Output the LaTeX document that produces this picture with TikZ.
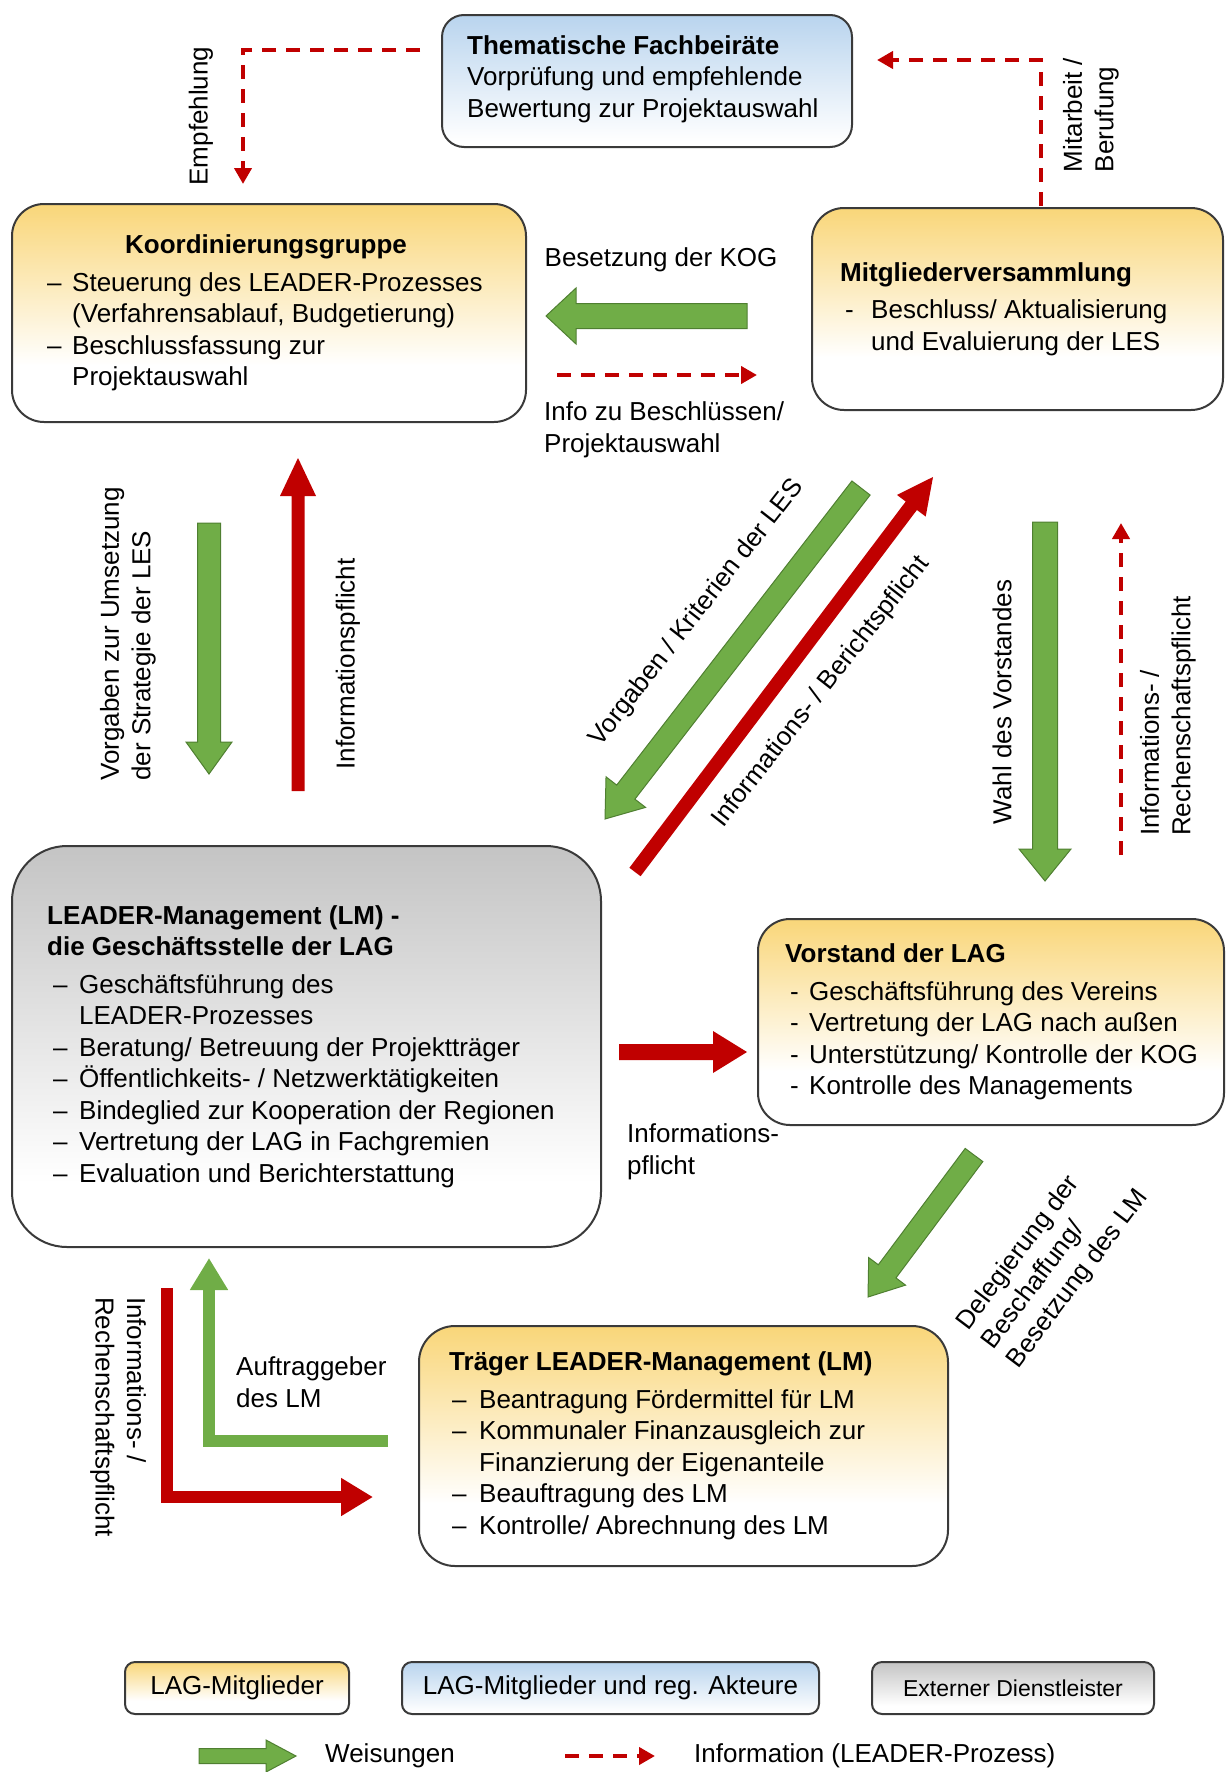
\documentclass[tikz,border=0pt]{standalone}
\usepackage{fontspec}
\setmainfont{Liberation Sans}
\usetikzlibrary{calc,arrows.meta}
\definecolor{myyellow}{HTML}{F9D679}
\definecolor{myblue}{HTML}{B9D4EE}
\definecolor{mygray}{HTML}{C4C4C4}
\definecolor{lgreen}{HTML}{70AD47}
\definecolor{dgreen}{HTML}{4F7F31}
\definecolor{lred}{HTML}{C00000}
\definecolor{bord}{HTML}{3A3A3A}
\pgfdeclareverticalshading{yfade}{100bp}{color(0bp)=(white); color(38bp)=(white); color(75bp)=(myyellow); color(100bp)=(myyellow)}
\pgfdeclareverticalshading{bfade}{100bp}{color(0bp)=(white); color(27bp)=(white); color(75bp)=(myblue); color(100bp)=(myblue)}
\pgfdeclareverticalshading{gfade}{100bp}{color(0bp)=(white); color(33bp)=(white); color(75bp)=(mygray); color(100bp)=(mygray)}
\newcommand{\blockarrow}[6]{%
  \coordinate (ba-n) at ($(#3)!#6!(#2)$);
  \path[#1] ($(#2)!#4!90:(#3)$) -- ($(ba-n)!#4!90:(#3)$) -- ($(ba-n)!#5!90:(#3)$) -- (#3)
    -- ($(ba-n)!#5!-90:(#3)$) -- ($(ba-n)!#4!-90:(#3)$) -- ($(#2)!#4!-90:(#3)$) -- cycle;}
\newcommand{\bitem}[2]{\makebox[#1][l]{–}#2}
\newcommand{\hitem}[2]{\makebox[#1][l]{-}#2}
\tikzset{
  box/.style={draw=bord, line width=2pt, shade, anchor=north west, inner sep=0pt},
  ybox/.style={box, shading=yfade},
  bbox/.style={box, shading=bfade},
  gbox/.style={box, shading=gfade},
  txt/.style={align=left, inner sep=0pt, font=\fontsize{26}{31.5}\selectfont},
  garrow/.style={fill=lgreen, draw=dgreen, line width=1pt, line join=miter},
  rarrow/.style={fill=lred},
  dasharrow/.style={draw=lred, line width=4pt, dash pattern=on 14pt off 10pt, -{Triangle[length=16pt,width=17pt]}},
}
\begin{document}
\begin{tikzpicture}[x=1pt,y=1pt]
\useasboundingbox (0,0) rectangle (1226,-1772);

% ---------- boxes ----------
\node[bbox, rounded corners=22pt, minimum width=410pt, minimum height=132pt] (them) at (441,-14) {};
\node[txt, anchor=west] (themt) at ($(them.west)+(26,2)$) {\textbf{Thematische Fachbeiräte}\\Vorprüfung und empfehlende\\Bewertung zur Projektauswahl};

\node[ybox, rounded corners=32pt, minimum width=514pt, minimum height=218pt] (kog) at (11,-203) {};
\node[txt, anchor=west] (kogt) at ($(kog.west)+(36,0)$) {\hspace*{78pt}\textbf{Koordinierungsgruppe}\\[6pt]
\bitem{25pt}{Steuerung des LEADER-Prozesses}\\
\hspace*{25pt}(Verfahrensablauf, Budgetierung)\\
\bitem{25pt}{Beschlussfassung zur}\\
\hspace*{25pt}Projektauswahl};

\node[ybox, rounded corners=32pt, minimum width=411pt, minimum height=202pt] (mv) at (811,-207) {};
\node[txt, anchor=west] (mvt) at ($(mv.west)+(29,0)$) {\textbf{Mitgliederversammlung}\\[6pt]
\hspace*{5pt}\hitem{26pt}{Beschluss/ Aktualisierung}\\
\hspace*{31pt}und Evaluierung der LES};

\node[gbox, rounded corners=55pt, minimum width=589pt, minimum height=401pt] (lm) at (11,-845) {};
\node[txt, anchor=west] (lmt) at ($(lm.west)+(36,0)$) {\textbf{LEADER-Management (LM) -}\\
\textbf{die Geschäftsstelle der LAG}\\[6pt]
\hspace*{6pt}\bitem{26pt}{Geschäftsführung des}\\
\hspace*{32pt}LEADER-Prozesses\\
\hspace*{6pt}\bitem{26pt}{Beratung/ Betreuung der Projektträger}\\
\hspace*{6pt}\bitem{26pt}{Öffentlichkeits- / Netzwerktätigkeiten}\\
\hspace*{6pt}\bitem{26pt}{Bindeglied zur Kooperation der Regionen}\\
\hspace*{6pt}\bitem{26pt}{Vertretung der LAG in Fachgremien}\\
\hspace*{6pt}\bitem{26pt}{Evaluation und Berichterstattung}};

\node[ybox, rounded corners=32pt, minimum width=466pt, minimum height=206pt] (vor) at (757,-918) {};
\node[txt, anchor=west] (vort) at ($(vor.west)+(28,0)$) {\textbf{Vorstand der LAG}\\[6pt]
\hspace*{5pt}\hitem{19pt}{Geschäftsführung des Vereins}\\
\hspace*{5pt}\hitem{19pt}{Vertretung der LAG nach außen}\\
\hspace*{5pt}\hitem{19pt}{Unterstützung/ Kontrolle der KOG}\\
\hspace*{5pt}\hitem{19pt}{Kontrolle des Managements}};

\node[ybox, rounded corners=36pt, minimum width=529pt, minimum height=240pt] (trag) at (418,-1325) {};
\node[txt, anchor=west] (tragt) at ($(trag.west)+(31,0)$) {\textbf{Träger LEADER-Management (LM)}\\[6pt]
\hspace*{3pt}\bitem{27pt}{Beantragung Fördermittel für LM}\\
\hspace*{3pt}\bitem{27pt}{Kommunaler Finanzausgleich zur}\\
\hspace*{30pt}Finanzierung der Eigenanteile\\
\hspace*{3pt}\bitem{27pt}{Beauftragung des LM}\\
\hspace*{3pt}\bitem{27pt}{Kontrolle/ Abrechnung des LM}};

% ---------- legend ----------
\node[ybox, rounded corners=10pt, minimum width=224pt, minimum height=52pt] (leg1) at (124,-1661) {};
\node[txt] (leg1t) at (leg1.center) {LAG-Mitglieder};
\node[bbox, rounded corners=10pt, minimum width=417pt, minimum height=52pt] (leg2) at (401,-1661) {};
\node[txt] (leg2t) at (leg2.center) {LAG-Mitglieder und reg. Akteure};
\node[gbox, rounded corners=10pt, minimum width=282pt, minimum height=52pt] (leg3) at (871,-1661) {};
\node[txt, font=\fontsize{23}{28}\selectfont] (leg3t) at (leg3.center) {Externer Dienstleister};

% ---------- coordinates for arrows ----------
\coordinate (a1s) at (747,-316);   \coordinate (a1e) at (546,-316);
\coordinate (a2s) at (209,-523);   \coordinate (a2e) at (209,-774);
\coordinate (a3s) at (298,-791);   \coordinate (a3e) at (298,-458);
\coordinate (a4s) at (861,-488);   \coordinate (a4e) at (605,-819);
\coordinate (a5s) at (635,-872);   \coordinate (a5e) at (933,-477);
\coordinate (a6s) at (1045,-522);  \coordinate (a6e) at (1045,-881);
\coordinate (a7s) at (619,-1052);  \coordinate (a7e) at (747,-1052);
\coordinate (a8s) at (974,-1155);  \coordinate (a8e) at (868,-1297);
\coordinate (a9s) at (199,-1756);  \coordinate (a9e) at (296,-1756);

% ---------- block arrows ----------
\blockarrow{garrow}{a1s}{a1e}{12.5pt}{28pt}{30pt}
\blockarrow{garrow}{a2s}{a2e}{11.5pt}{23pt}{32pt}
\blockarrow{rarrow}{a3s}{a3e}{6.5pt}{18pt}{38pt}
\blockarrow{garrow}{a4s}{a4e}{11.5pt}{25pt}{34pt}
\blockarrow{rarrow}{a5s}{a5e}{7pt}{18pt}{36pt}
\blockarrow{garrow}{a6s}{a6e}{12.5pt}{26pt}{32pt}
\blockarrow{rarrow}{a7s}{a7e}{8pt}{21pt}{34pt}
\blockarrow{garrow}{a8s}{a8e}{11pt}{23pt}{32pt}
\blockarrow{garrow}{a9s}{a9e}{7.5pt}{16pt}{30pt}

% ---------- L arrows ----------
\coordinate (gls) at (388,-1441); \coordinate (glc) at (209,-1441); \coordinate (gle) at (209,-1258);
\draw[lgreen, line width=12pt, line join=miter, -{Triangle[length=32pt,width=36pt]}] (gls) -- (glc) -- (gle);
\coordinate (rls) at (167,-1288); \coordinate (rlc) at (167,-1497); \coordinate (rle) at (373,-1497);
\draw[lred, line width=12pt, line join=miter, -{Triangle[length=32pt,width=36pt]}] (rls) -- (rlc) -- (rle);

% ---------- dashed arrows ----------
\coordinate (d1s) at (420,-50); \coordinate (d1c) at (243,-50); \coordinate (d1e) at (243,-184);
\draw[dasharrow] (d1s) -- (d1c) -- (d1e);
\coordinate (d2s) at (1041,-206); \coordinate (d2c) at (1041,-60); \coordinate (d2e) at (877,-60);
\draw[dasharrow] (d2s) -- (d2c) -- (d2e);
\coordinate (d3s) at (557,-375); \coordinate (d3e) at (757,-375);
\draw[dasharrow] (d3s) -- (d3e);
\coordinate (d4s) at (1121,-855); \coordinate (d4e) at (1121,-523);
\draw[dasharrow] (d4s) -- (d4e);
\coordinate (d5s) at (565,-1756); \coordinate (d5e) at (655,-1756);
\draw[dasharrow] (d5s) -- (d5e);

% ---------- labels ----------
\node[txt, rotate=90] (lEmpf) at (201,-116) {Empfehlung};
\node[txt, rotate=90] (lMit) at (1091,-115) {Mitarbeit /\\Berufung};
\node[txt] (lBes) at (661,-260) {Besetzung der KOG};
\node[txt, anchor=west] (lInfo) at (544,-430) {Info zu Beschlüssen/\\Projektauswahl};
\node[txt, rotate=90] (lVorg) at (128,-634) {Vorgaben zur Umsetzung\\der Strategie der LES};
\node[txt, rotate=90] (lInfp) at (348,-664) {Informationspflicht};
\node[txt, rotate=52] (lKrit) at (697,-613) {Vorgaben / Kriterien der LES};
\node[txt, rotate=52] (lBer) at (821,-692) {Informations- / Berichtspflicht};
\node[txt, rotate=90] (lWahl) at (1002,-702) {Wahl des Vorstandes};
\node[txt, rotate=90] (lRech) at (1168,-716) {Informations- /\\Rechenschaftspflicht};
\node[txt, anchor=west] (lInfp2) at (627,-1152) {Informations-\\pflicht};
\node[txt, rotate=53] (lDel) at (1053,-1260) {Delegierung der\\Beschaffung/\\Besetzung des LM};
\node[txt, anchor=west] (lAuf) at (236,-1382) {Auftraggeber\\des LM};
\node[txt, rotate=-90] (lRech2) at (118,-1417) {Informations- /\\Rechenschaftspflicht};
\node[txt, anchor=west] (lWeis) at (325,-1756) {Weisungen};
\node[txt, anchor=west] (lInfoL) at (694,-1756) {Information (LEADER-Prozess)};
\end{tikzpicture}
\end{document}
